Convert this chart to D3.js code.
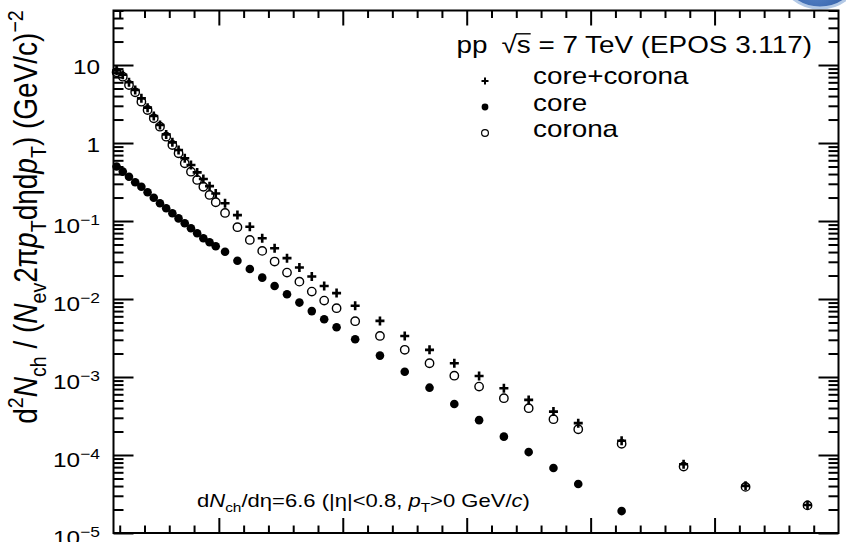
<!DOCTYPE html>
<html>
<head>
<meta charset="utf-8">
<script src="https://cdn.jsdelivr.net/npm/d3@7.9.0/dist/d3.min.js"></script>
<style>
  body { margin: 0; background: #fff; }
  svg { display: block; font-family: "Liberation Sans", Arial, Helvetica, sans-serif; }
</style>
</head>
<body>
<svg id="chart" width="846" height="542"></svg>
<script>
// pT bin centres (GeV/c)
const pt = [
  0.175, 0.225, 0.275, 0.325, 0.375, 0.425, 0.475, 0.525, 0.575, 0.625,
  0.675, 0.725, 0.775, 0.825, 0.875, 0.925, 0.975,
  1.05, 1.15, 1.25, 1.35, 1.45, 1.55, 1.65, 1.75, 1.85, 1.95,
  2.1, 2.3, 2.5, 2.7, 2.9, 3.1, 3.3, 3.5, 3.7, 3.9,
  4.25, 4.75, 5.25, 5.75,
];

// core+corona yields
const coreCorona = [
  8.5, 7.5, 6.0, 4.78, 3.74, 2.84, 2.22, 1.70, 1.29, 1.02,
  0.814, 0.637, 0.523, 0.42, 0.346, 0.280, 0.225,
  0.169, 0.119, 0.0846, 0.0600, 0.0448, 0.0334, 0.0253, 0.0194, 0.0147, 0.0119,
  0.0082, 0.00524, 0.00336, 0.00223, 0.00150, 0.00103, 7.18e-4, 5.09e-4, 3.6e-4, 2.56e-4,
  1.52e-4, 7.62e-5, 4.02e-5, 2.29e-5,
];

// core only (falls below the frame after 4.25)
const core = [
  0.50, 0.43, 0.37, 0.314, 0.275, 0.234, 0.199, 0.169, 0.146, 0.126,
  0.108, 0.0935, 0.0807, 0.0696, 0.0600, 0.0535, 0.0475,
  0.0404, 0.0310, 0.0243, 0.0188, 0.0147, 0.0115, 0.0090, 0.0070, 0.0055, 0.00434,
  0.00305, 0.00188, 0.00117, 7.3e-4, 4.5e-4, 2.8e-4, 1.72e-4, 1.09e-4, 6.8e-5, 4.25e-5,
  1.91e-5,
];

// corona only
const corona = [
  8.07, 7.09, 5.54, 4.47, 3.39, 2.65, 2.07, 1.62, 1.205, 0.943,
  0.738, 0.550, 0.429, 0.336, 0.275, 0.216, 0.174,
  0.127, 0.0833, 0.0572, 0.0414, 0.0302, 0.0218, 0.0167, 0.01244, 0.00954, 0.00762,
  0.00519, 0.00336, 0.00223, 0.00150, 0.00104, 7.53e-4, 5.35e-4, 3.98e-4, 2.88e-4, 2.14e-4,
  1.39e-4, 7.1e-5, 3.9e-5, 2.26e-5,
];

const legendLabels = ["core+corona", "core", "corona"];
const yDecades = [1e-5, 1e-4, 1e-3, 1e-2, 1e-1, 1, 10];
const yExponents = [-5, -4, -3, -2, -1, 0, 1];
const xMajor = [1, 2, 3, 4, 5];

const width = 846;
const height = 542;
const plot = { left: 113.5, right: 838.5, top: 10.5, bottom: 533 };
const stretch = 1.16; // ROOT text renders a bit wide

const x = d3.scaleLinear().domain([0.15, 6]).range([plot.left, plot.right]);
const y = d3.scaleLog().domain([1e-5, 50]).range([plot.bottom, plot.top]);

const svg = d3.select("#chart");

// writes mixed italic / sub / superscript runs into a text element
function richText(text, parts, size) {
  let shift = 0;
  parts.forEach(([str, kind]) => {
    const target = kind === "sup" ? -0.42 * size : kind === "sub" ? 0.28 * size : 0;
    const ts = text.append("tspan").attr("dy", target - shift).text(str);
    if (kind === "sup" || kind === "sub") ts.attr("font-size", size * 0.7);
    if (kind === "i") ts.attr("font-style", "italic");
    shift = target;
  });
}

// logo peeking in at the top right corner
const defs = svg.append("defs");
const grad = defs
  .append("radialGradient")
  .attr("id", "logoFill")
  .attr("cx", "45%")
  .attr("cy", "75%")
  .attr("r", "65%");
grad.append("stop").attr("offset", "0%").attr("stop-color", "#5a88cc");
grad.append("stop").attr("offset", "100%").attr("stop-color", "#1c4790");
svg
  .append("circle")
  .attr("cx", 820)
  .attr("cy", -35)
  .attr("r", 43)
  .attr("fill", "url(#logoFill)")
  .attr("stroke", "#b3c9e6")
  .attr("stroke-width", 3);

// ---- axes: ticks point into the frame on all four sides
const yMinor = [];
yDecades.forEach((d) => {
  for (let m = 2; m <= 9; m++) if (d * m <= 50) yMinor.push(d * m);
});
const xMinor = d3.range(1, 30).map((i) => i * 0.2).filter((v) => Math.abs(v - Math.round(v)) > 0.01);

function addAxis(axis, transform, values, size) {
  svg
    .append("g")
    .attr("transform", transform)
    .call(axis.tickValues(values).tickSize(-size).tickFormat(""))
    .call((g) => g.select(".domain").remove())
    .call((g) => g.selectAll("line").attr("stroke", "#000").attr("stroke-width", 2));
}

addAxis(d3.axisLeft(y), `translate(${plot.left},0)`, yDecades, 20);
addAxis(d3.axisLeft(y), `translate(${plot.left},0)`, yMinor, 10);
addAxis(d3.axisRight(y), `translate(${plot.right},0)`, yDecades, 20);
addAxis(d3.axisRight(y), `translate(${plot.right},0)`, yMinor, 10);
addAxis(d3.axisBottom(x), `translate(0,${plot.bottom})`, xMajor, 15);
addAxis(d3.axisBottom(x), `translate(0,${plot.bottom})`, xMinor, 7.5);
addAxis(d3.axisTop(x), `translate(0,${plot.top})`, xMajor, 15);
addAxis(d3.axisTop(x), `translate(0,${plot.top})`, xMinor, 7.5);

svg
  .append("rect")
  .attr("x", plot.left)
  .attr("y", plot.top)
  .attr("width", plot.right - plot.left)
  .attr("height", plot.bottom - plot.top)
  .attr("fill", "none")
  .attr("stroke", "#000")
  .attr("stroke-width", 2);

// y tick labels as powers of ten
yDecades.forEach((d, i) => {
  const e = yExponents[i];
  const plain = e === 0 || e === 1;
  const g = svg
    .append("g")
    .attr("transform", `translate(100,${y(d) + (plain ? 9 : 12)}) scale(${stretch},1)`);
  const t = g.append("text").attr("text-anchor", "end").attr("font-size", 21);
  if (e === 0) t.text("1");
  else if (e === 1) t.text("10");
  else {
    t.append("tspan").text("10");
    t.append("tspan").attr("font-size", 15).attr("dy", -8).text("\u2212" + Math.abs(e));
  }
});

// y axis title
const yTitle = svg
  .append("g")
  .attr("transform", `translate(37,217) scale(${stretch},1) rotate(-90)`)
  .append("text")
  .attr("text-anchor", "middle")
  .attr("font-size", 28);
richText(
  yTitle,
  [
    ["d"], ["2", "sup"], ["N", "i"], ["ch", "sub"], [" / ("], ["N", "i"], ["ev", "sub"],
    ["2\u03c0"], ["p", "i"], ["T", "sub"], ["d\u03b7d"], ["p", "i"], ["T", "sub"],
    [") (GeV/c)"], ["\u22122", "sup"],
  ],
  28,
);

// ---- data markers
const mk = (xs, ys) => ys.map((v, i) => [xs[i], v]);

svg
  .append("g")
  .selectAll("circle")
  .data(mk(pt, corona))
  .join("circle")
  .attr("cx", (d) => x(d[0]))
  .attr("cy", (d) => y(d[1]))
  .attr("r", 4.2)
  .attr("fill", "none")
  .attr("stroke", "#000")
  .attr("stroke-width", 1.4);

svg
  .append("g")
  .selectAll("circle")
  .data(mk(pt, core))
  .join("circle")
  .attr("cx", (d) => x(d[0]))
  .attr("cy", (d) => y(d[1]))
  .attr("r", 4.3)
  .attr("fill", "#000");

svg
  .append("g")
  .selectAll("path")
  .data(mk(pt, coreCorona))
  .join("path")
  .attr("transform", (d) => `translate(${x(d[0])},${y(d[1])})`)
  .attr("d", "M-4.5,0H4.5M0,-4.5V4.5")
  .attr("stroke", "#000")
  .attr("stroke-width", 2.6);

// ---- legend
const headG = svg.append("g").attr("transform", `translate(812,53) scale(${stretch},1)`);
const head = headG
  .append("text")
  .attr("text-anchor", "end")
  .attr("font-size", 24)
  .text("pp\u2002\u221as = 7 TeV (EPOS 3.117)");
const root = head.node().getExtentOfChar(3);
const sChar = head.node().getExtentOfChar(4);
headG
  .append("line")
  .attr("x1", root.x + root.width - 1)
  .attr("x2", sChar.x + sChar.width)
  .attr("y1", -0.8 * 24)
  .attr("y2", -0.8 * 24)
  .attr("stroke", "#000")
  .attr("stroke-width", 1.4);

const markerY = [81, 107, 133];
const labelY = [83.5, 111, 137];
legendLabels.forEach((label, i) => {
  const cx = 485;
  if (i === 0) {
    svg
      .append("path")
      .attr("transform", `translate(${cx},${markerY[i]})`)
      .attr("d", "M-3.5,0H3.5M0,-3.5V3.5")
      .attr("stroke", "#000")
      .attr("stroke-width", 2);
  } else {
    svg
      .append("circle")
      .attr("cx", cx)
      .attr("cy", markerY[i])
      .attr("r", 3.4)
      .attr("fill", i === 1 ? "#000" : "none")
      .attr("stroke", "#000")
      .attr("stroke-width", i === 1 ? 0 : 1.2);
  }
  svg
    .append("g")
    .attr("transform", `translate(533,${labelY[i]}) scale(${stretch},1)`)
    .append("text")
    .attr("font-size", 24)
    .text(label);
});

// multiplicity note
const note = svg
  .append("g")
  .attr("transform", `translate(197,507) scale(${stretch},1)`)
  .append("text")
  .attr("font-size", 19);
richText(
  note,
  [
    ["d"], ["N", "i"], ["ch", "sub"], ["/d\u03b7=6.6 (|\u03b7|<0.8, "], ["p", "i"], ["T", "sub"],
    [">0 GeV/"], ["c", "i"], [")"],
  ],
  19,
);
</script>
</body>
</html>
